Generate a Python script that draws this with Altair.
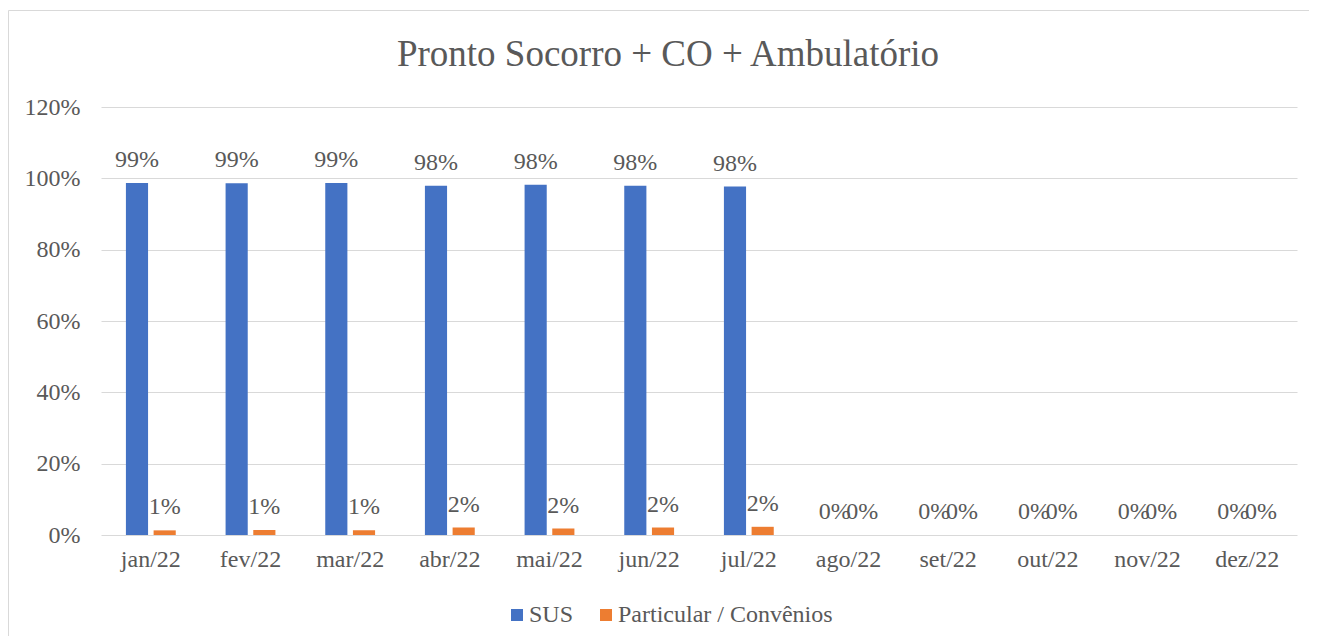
import altair as alt
import pandas as pd

months = ["jan/22", "fev/22", "mar/22", "abr/22", "mai/22", "jun/22",
          "jul/22", "ago/22", "set/22", "out/22", "nov/22", "dez/22"]
series_names = ["SUS", "Particular / Convênios"]
sus = [0.987, 0.986, 0.987, 0.979, 0.982, 0.979, 0.977, 0, 0, 0, 0, 0]
particular = [0.013, 0.014, 0.013, 0.021, 0.018, 0.021, 0.023, 0, 0, 0, 0, 0]
y_ticks = [0, 0.2, 0.4, 0.6, 0.8, 1.0, 1.2]
colors = ["#4472C4", "#ED7D31"]

rows = []
for m, a, b in zip(months, sus, particular):
    rows.append({"mes": m, "serie": series_names[0], "valor": a})
    rows.append({"mes": m, "serie": series_names[1], "valor": b})
df = pd.DataFrame(rows)

FONT = "Liberation Serif"
TXT = "#595959"
GRID = "#d9d9d9"
W, H = 1196, 428

x_enc = alt.X("mes:N", sort=months, title=None,
              scale=alt.Scale(paddingInner=0.5, paddingOuter=0.25),
              axis=alt.Axis(labelAngle=0, ticks=False, domain=False,
                            labelPadding=12, labelFontSize=24, labelFont=FONT,
                            labelColor=TXT))
xo_enc = alt.XOffset("serie:N", sort=series_names,
                     scale=alt.Scale(paddingInner=0.2))
y_enc = alt.Y("valor:Q", title=None,
              scale=alt.Scale(domain=[0, 1.2], nice=False),
              axis=alt.Axis(values=y_ticks, format=".0%", ticks=False,
                            domain=False, labelPadding=21, labelFontSize=24,
                            labelFont=FONT, labelColor=TXT,
                            gridColor=GRID, gridWidth=1))

base = alt.Chart(df)

bars = base.mark_bar().encode(
    x=x_enc, xOffset=xo_enc, y=y_enc,
    color=alt.Color("serie:N", sort=series_names,
                    scale=alt.Scale(domain=series_names, range=colors),
                    legend=alt.Legend(title=None, orient="none",
                                      direction="horizontal",
                                      legendX=404, legendY=496,
                                      symbolType="square", symbolSize=144,
                                      symbolStrokeWidth=0,
                                      labelFontSize=24, labelFont=FONT,
                                      labelColor=TXT, labelOffset=0,
                                      labelLimit=500,
                                      columnPadding=20, padding=0)),
)

labels = base.mark_text(dy=-16, baseline="alphabetic", fontSize=24,
                        font=FONT, color=TXT).encode(
    x=alt.X("mes:N", sort=months), xOffset=alt.XOffset("serie:N", sort=series_names),
    y="valor:Q",
    text=alt.Text("valor:Q", format=".0%"),
)

border = alt.Chart(alt.Data(values=[{"k": 1}])).mark_rect(
    filled=False, stroke=GRID, strokeWidth=1).encode(
    x=alt.value(-92.5), x2=alt.value(W + 40),
    y=alt.value(-96.5), y2=alt.value(H + 200),
)

chart = alt.layer(border, bars, labels).properties(
    width=W, height=H,
    title=alt.TitleParams("Pronto Socorro + CO + Ambulatório", fontSize=37,
                          font=FONT, color=TXT, fontWeight="normal",
                          anchor="middle", dx=-31, dy=38, offset=-55,
                          baseline="alphabetic"),
    autosize=alt.AutoSizeParams(type="none"),
    padding={"left": 93, "top": 99, "right": 12, "bottom": 101},
).configure(font=FONT).configure_view(strokeWidth=0)

chart.save("out.html", embed_options={"renderer": "svg", "actions": False})
